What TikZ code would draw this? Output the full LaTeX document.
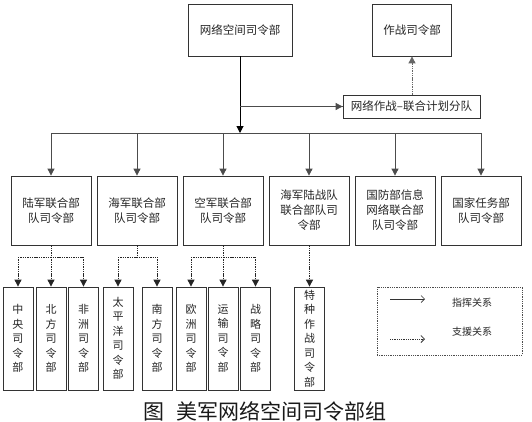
\documentclass[tikz,border=0pt]{standalone}
\usepackage{fontspec}
\setmainfont{Noto Sans CJK SC}
\usetikzlibrary{arrows.meta}
\begin{document}
\begin{tikzpicture}[x=1pt,y=-1pt,
  box/.style={draw=black!80, line width=0.8pt, inner sep=0pt, align=center,
    text=black!85, font=\fontsize{11.5}{15}\selectfont},
  midbox/.style={box, minimum width=80pt, minimum height=69pt},
  lowbox/.style={box, minimum width=30pt, minimum height=103pt,
    font=\fontsize{11}{14.5}\selectfont},
  cmd/.style={draw=black, line width=0.8pt},
  cmdarrow/.style={cmd, -{Triangle[length=7pt,width=7pt]}},
  sup/.style={draw=black!85, line width=0.9pt, dash pattern=on 1.4pt off 0.9pt},
  suparrow/.style={sup, -{Triangle[length=7pt,width=7pt]}},
  legtext/.style={font=\fontsize{10}{11}\selectfont, text=black!85, inner sep=0pt}
]
\useasboundingbox (0,0) rectangle (532,421);
\fill[white] (0,0) rectangle (532,421);

% top level
\node[box, minimum width=104pt, minimum height=52pt] (top) at (240,30) {网络空间司令部};
\node[box, minimum width=79pt, minimum height=52pt] (zz) at (412,30) {作战司令部};
\node[box, minimum width=137pt, minimum height=23pt] (plan) at (411.5,106.5) {网络作战–联合计划分队};

% second level
\node[midbox] (b1) at (51,210.5) {陆军联合部\\队司令部};
\node[midbox] (b2) at (137,210.5) {海军联合部\\队司令部};
\node[midbox] (b3) at (223,210.5) {空军联合部\\队司令部};
\node[midbox] (b4) at (309,210.5) {海军陆战队\\联合部队司\\令部};
\node[midbox] (b5) at (395,210.5) {国防部信息\\网络联合部\\队司令部};
\node[midbox] (b6) at (481,210.5) {国家任务部\\队司令部};

% third level
\node[lowbox] (c1) at (18,338.5) {中\\央\\司\\令\\部};
\node[lowbox] (c2) at (51,338.5) {北\\方\\司\\令\\部};
\node[lowbox] (c3) at (83.5,338.5) {非\\洲\\司\\令\\部};
\node[lowbox] (c4) at (118,338.5) {太\\平\\洋\\司\\令\\部};
\node[lowbox] (c5) at (157,338.5) {南\\方\\司\\令\\部};
\node[lowbox] (c6) at (191,338.5) {欧\\洲\\司\\令\\部};
\node[lowbox] (c7) at (223,338.5) {运\\输\\司\\令\\部};
\node[lowbox] (c8) at (255.5,338.5) {战\\略\\司\\令\\部};
\node[lowbox] (c9) at (309.5,338.5) {特\\种\\作\\战\\司\\令\\部};

% command connectors
\coordinate (bus) at (240,133);
\draw[cmdarrow, line width=1pt] (top.south) -- (bus);
\draw[cmd, draw=black!70] (top.south |- plan) -- (plan.west);
\draw[cmdarrow, draw=black!70] ([xshift=-8pt]plan.west) -- (plan.west);
\draw[cmd, draw=black!70] (b1 |- bus) -- (b6 |- bus);
\foreach \b in {b1,b2,b3,b4,b5,b6}
  \draw[cmdarrow, draw=black!70] (\b |- bus) -- (\b.north);
\draw[suparrow, draw=black!60] (zz |- plan.north) -- (zz.south);

% support connectors
\coordinate (br) at (0,257);
\draw[sup] (b1.south) -- (b1 |- br);
\draw[sup] (c1 |- br) -- (c3 |- br);
\foreach \c in {c1,c2,c3} \draw[suparrow] (\c |- br) -- (\c.north);
\draw[sup] (b2.south) -- (b2 |- br);
\draw[sup] (c4 |- br) -- (c5 |- br);
\foreach \c in {c4,c5} \draw[suparrow] (\c |- br) -- (\c.north);
\draw[sup] (b3.south) -- (b3 |- br);
\draw[sup] (c6 |- br) -- (c8 |- br);
\foreach \c in {c6,c7,c8} \draw[suparrow] (\c |- br) -- (\c.north);
\draw[suparrow] (c9 |- b4.south) -- (c9.north);

% legend
\node[draw=black!70, line width=0.7pt, dash pattern=on 1pt off 0.8pt,
  minimum width=145pt, minimum height=68pt, inner sep=0pt] (leg) at (449.5,321) {};
\coordinate (la1) at (390,299);
\coordinate (lb1) at (425,299);
\coordinate (la2) at (390,339);
\coordinate (lb2) at (425,339);
\draw[draw=black!80, line width=0.7pt, -{Straight Barb[length=3.5pt,width=7pt]}] (la1) -- (lb1);
\draw[draw=black!80, line width=0.8pt, dash pattern=on 1pt off 0.8pt, -{Straight Barb[length=3.5pt,width=7pt]}] (la2) -- (lb2);
\node[legtext] (lt1) at (472,303) {指挥关系};
\node[legtext] (lt2) at (472,332) {支援关系};

% caption
\node[inner sep=0pt, text=black!90] (cap) at (265,411) {\fontsize{21}{21}\selectfont 图\hspace{0.6em}美军网络空间司令部组};
\end{tikzpicture}
\end{document}
